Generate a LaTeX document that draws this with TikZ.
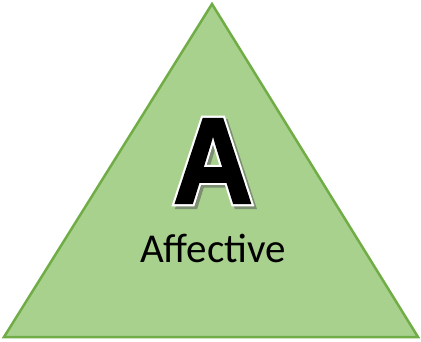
\documentclass[tikz,border=0pt]{standalone}
\usepackage{fontspec}
\setmainfont{Carlito}
\newfontfamily\bigfont[FakeStretch=0.9,FakeBold=2]{Liberation Sans Bold}
\newfontfamily\bigfontoutline[FakeStretch=0.9,FakeBold=5.5]{Liberation Sans Bold}
\newfontfamily\bigfontshadow[FakeStretch=0.9,FakeBold=5]{Liberation Sans Bold}
\definecolor{trifill}{HTML}{A9D18E}
\definecolor{triline}{HTML}{70AD47}
\definecolor{shadowgray}{HTML}{5A5A5A}
\begin{document}
\begin{tikzpicture}[x=1pt,y=-1pt,
  tri/.style={fill=trifill,draw=triline,line width=2.5pt,line join=miter},
  letterbase/.style={inner sep=0pt,anchor=base},
  bigletter/.style={letterbase,font=\bigfont\fontsize{122}{122}\selectfont},
  outlineletter/.style={letterbase,font=\bigfontoutline\fontsize{122}{122}\selectfont},
  shadowletter/.style={letterbase,font=\bigfontshadow\fontsize{122}{122}\selectfont},
  label/.style={inner sep=0pt,anchor=base,font=\fontsize{41}{41}\selectfont,text=black}]
\useasboundingbox (0,0) rectangle (421,342);
\coordinate (apex) at (212,4);
\coordinate (bl) at (4,337);
\coordinate (br) at (418,337);
\draw[tri] (apex) -- (bl) -- (br) -- cycle;
\coordinate (abase) at (213,203);
\coordinate (sbase) at (216,206);
\node[shadowletter,text=shadowgray,opacity=0.55] (shadowA) at (sbase) {A};
\node[outlineletter,text=white] (outlineA) at (abase) {A};
\node[bigletter,text=black] (bigA) at (abase) {A};
\node[label] (lbl) at (213,263) {Affective};
\end{tikzpicture}
\end{document}
